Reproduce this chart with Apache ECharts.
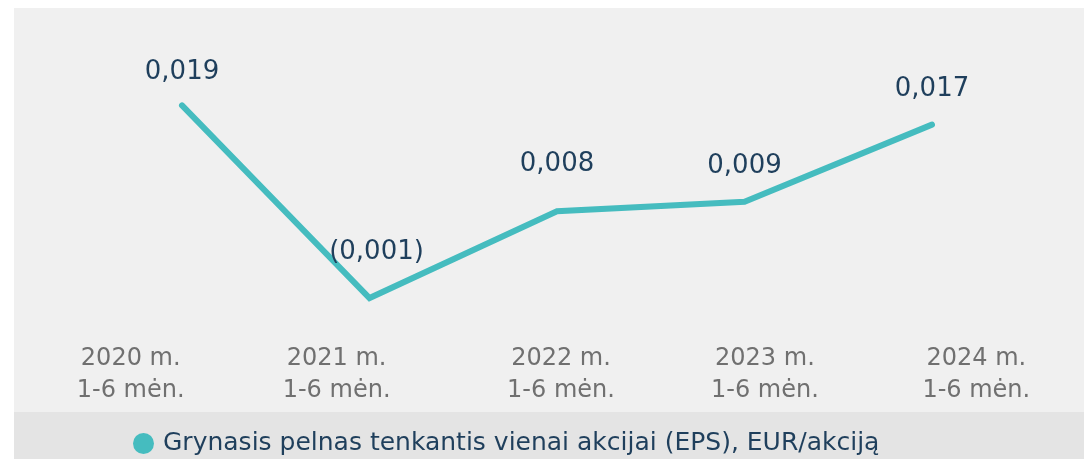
<!DOCTYPE html>
<html>
<head>
<meta charset="utf-8">
<script src="https://cdn.jsdelivr.net/npm/echarts@6/dist/echarts.min.js"></script>
<style>
    html, body { margin: 0; padding: 0; background: #ffffff; }
    #chart { width: 1084px; height: 459px; }
</style>
</head>
<body>
<div id="chart"></div>
<script>
const periods = ['2020 m.\n1-6 mėn.', '2021 m.\n1-6 mėn.', '2022 m.\n1-6 mėn.', '2023 m.\n1-6 mėn.', '2024 m.\n1-6 mėn.']
const eps = [0.019, -0.001, 0.008, 0.009, 0.017]
const seriesName = 'Grynasis pelnas tenkantis vienai akcijai (EPS), EUR/akciją'

// label placement tweaks, one per point / category
const labelDistance = [20, 33, 34, 22, 22]
const labelShiftX = [0, 7, 0, 0, 0]
const tickPad = [[0, 0, 0, 0], [0, 11, 0, 0], [0, 0, 0, 15], [0, 0, 0, 0], [0, 0, 0, 0]]

const teal = '#45bcbf'
const navy = '#1f3f5c'

const formatEps = (v) => {
    const s = Math.abs(v).toFixed(3).replace('.', ',')
    return v < 0 ? '(' + s + ')' : s
}

const tickRich = {}
tickPad.forEach((pad, i) => {
    tickRich['c' + i] = {
        color: '#707070',
        fontSize: 24,
        lineHeight: 32,
        fontFamily: 'DejaVu Sans',
        padding: pad
    }
})

const chart = echarts.init(document.getElementById('chart'))

const option = {
    backgroundColor: '#ffffff',
    animation: false,
    graphic: [
        { type: 'rect', z: -10, shape: { x: 14, y: 8, width: 1070, height: 404 }, style: { fill: '#f0f0f0' } },
        { type: 'rect', z: -10, shape: { x: 14, y: 412, width: 1070, height: 47 }, style: { fill: '#e4e4e4' } }
    ],
    legend: {
        left: 133,
        top: 431,
        padding: 0,
        icon: 'circle',
        itemWidth: 21,
        itemHeight: 21,
        textStyle: { color: navy, fontSize: 25, fontFamily: 'DejaVu Sans', padding: [0, 0, 0, 4] },
        data: [seriesName]
    },
    grid: [
        { left: 88.25, right: 58.25, top: 95.7, bottom: 151.3 },
        { left: 25, right: 2, top: 100, bottom: 124.5 }
    ],
    xAxis: [
        {
            type: 'category',
            gridIndex: 0,
            data: periods,
            axisLine: { show: false },
            axisTick: { show: false },
            axisLabel: { show: false }
        },
        {
            type: 'category',
            gridIndex: 1,
            data: periods,
            axisLine: { show: false },
            axisTick: { show: false },
            axisLabel: {
                interval: 0,
                hideOverlap: false,
                margin: 8,
                color: '#707070',
                fontSize: 24,
                lineHeight: 32,
                fontFamily: 'DejaVu Sans',
                formatter: (value, i) => value.split('\n').map((l) => '{c' + i + '|' + l + '}').join('\n'),
                rich: tickRich
            }
        }
    ],
    yAxis: [
        { type: 'value', gridIndex: 0, min: -0.002, max: 0.02, show: false, splitLine: { show: false } },
        { type: 'value', gridIndex: 1, show: false, splitLine: { show: false } }
    ],
    series: [
        {
            name: seriesName,
            type: 'line',
            xAxisIndex: 0,
            yAxisIndex: 0,
            symbol: 'circle',
            symbolSize: 0,
            itemStyle: { color: teal },
            lineStyle: { color: teal, width: 6, cap: 'round', join: 'miter' },
            label: {
                show: true,
                position: 'top',
                color: navy,
                fontSize: 26,
                fontFamily: 'DejaVu Sans',
                formatter: (p) => formatEps(p.value)
            },
            data: eps.map((v, i) => ({
                value: v,
                label: { distance: labelDistance[i], offset: [labelShiftX[i], 0] }
            }))
        }
    ]
}

chart.setOption(option)
window.addEventListener('resize', () => chart.resize())
</script>
</body>
</html>
